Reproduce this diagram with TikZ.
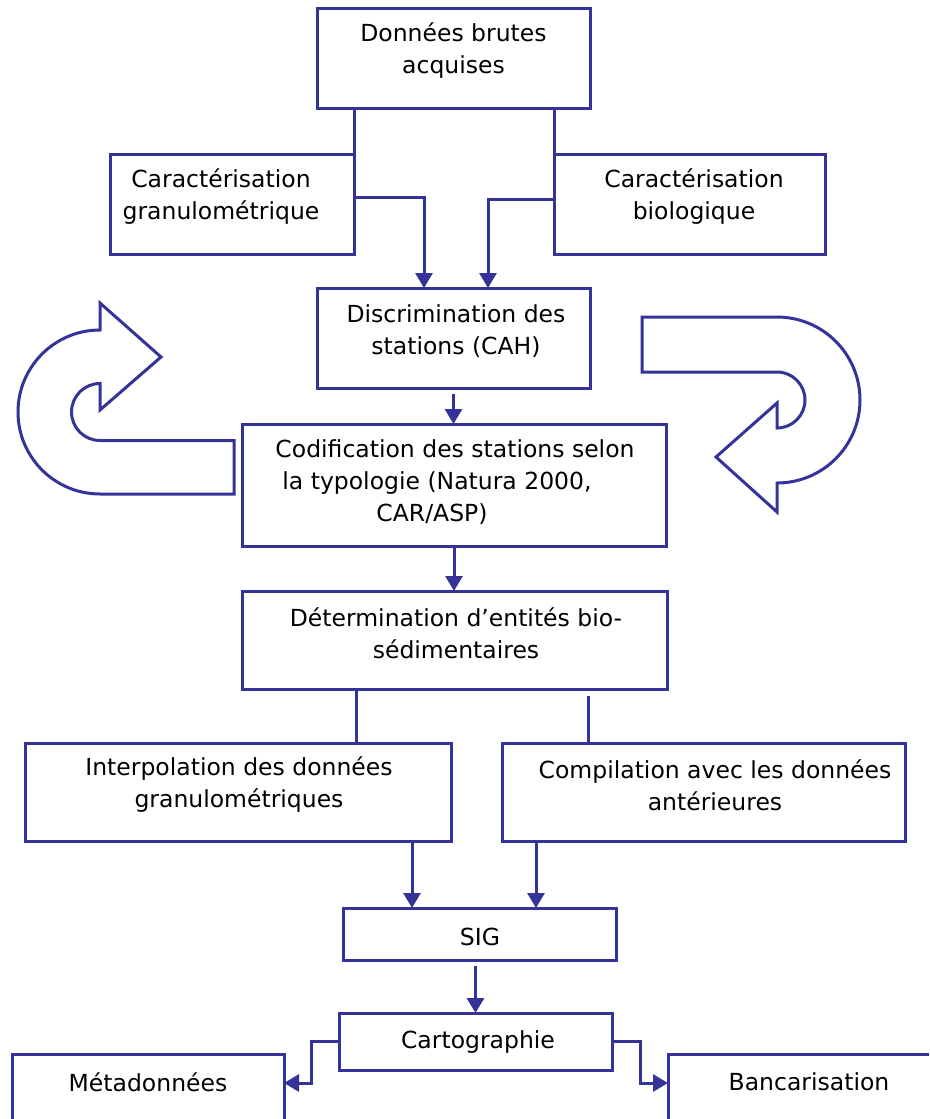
\documentclass[tikz,border=0pt]{standalone}
\usepackage{fontspec}
\setmainfont{DejaVu Sans}
\usetikzlibrary{arrows.meta,calc}
\definecolor{bl}{RGB}{51,51,153}
\begin{document}
\begin{tikzpicture}[x=1pt,y=-1pt,
  box/.style={draw=bl, line width=3pt, rectangle, anchor=north west, inner sep=0pt, outer sep=0pt},
  txt/.style={align=center, inner sep=0pt, yshift=-2pt, font=\fontsize{23.5}{32}\selectfont},
  conn/.style={draw=bl, line width=3pt},
  arr/.style={conn, -{Triangle[length=15pt,width=17pt]}},
  bigarrow/.style={draw=bl, line width=3pt, line join=miter}]
\useasboundingbox (0,0) rectangle (929,1119);
\clip (0,0) rectangle (929,1119);

% boxes
\node[box, minimum width=273pt, minimum height=100pt] (b1) at (317,8) {};
\node[box, minimum width=244pt, minimum height=100pt] (b2) at (110,154) {};
\node[box, minimum width=271pt, minimum height=100pt] (b3) at (554,154) {};
\node[box, minimum width=273pt, minimum height=100pt] (b4) at (317,288) {};
\node[box, minimum width=424pt, minimum height=122pt] (b5) at (242,424) {};
\node[box, minimum width=425pt, minimum height=98pt] (b6) at (242,591) {};
\node[box, minimum width=426pt, minimum height=98pt] (b7) at (25,743) {};
\node[box, minimum width=403pt, minimum height=98pt] (b8) at (502,743) {};
\node[box, minimum width=273pt, minimum height=52pt] (b9) at (343,908) {};
\node[box, minimum width=273pt, minimum height=57pt] (b10) at (339,1013) {};
\node[box, minimum width=272pt, minimum height=100pt] (b11) at (12,1054) {};
\node[box, minimum width=290pt, minimum height=100pt] (b12) at (668,1054) {};

% texts
\node[txt] (t1) at (453.5,49) {Données brutes\\acquises};
\node[txt] (t2) at (221,195) {Caractérisation\\granulométrique};
\node[txt] (t3) at (694,195) {Caractérisation\\biologique};
\node[txt] (t4) at (456,329) {Discrimination des\\stations (CAH)};
\node[txt] (t5) at (455,480) {Codification des stations selon\\\hspace*{-36pt}la typologie (Natura 2000,\\\hspace*{-46pt}CAR/ASP)};
\node[txt] (t6) at (456,631) {Détermination d’entités bio-\\sédimentaires};
\node[txt] (t7) at (239,783) {Interpolation des données\\granulométriques};
\node[txt] (t8) at (715,783) {Compilation avec les données\\antérieures};
\node[txt] (t9) at (480,935) {SIG};
\node[txt] (t10) at (478,1040) {Cartographie};
\node[txt] (t11) at (148,1080) {Métadonnées};
\node[txt] (t12) at (809,1080) {Bancarisation};

% connectors
\coordinate (k1) at (424,197);
\coordinate (k2) at (488,199);
\draw[arr] (b1.south -| b2.east) |- (k1) -- (k1 |- b4.north);
\draw[arr] (b1.south -| b3.west) |- (k2) -- (k2 |- b4.north);
\draw[arr, shorten <=6pt] (b4.south) -- (b4.south |- b5.north);
\draw[arr] (b5.south) -- (b5.south |- b6.north);
\coordinate (k3) at (356,0);
\coordinate (k4) at (588,0);
\draw[conn] (k3 |- b6.south) -- (k3 |- b7.north);
\draw[conn, shorten <=7pt] (k4 |- b6.south) -- (k4 |- b8.north);
\coordinate (k5) at (412,0);
\coordinate (k6) at (536,0);
\draw[arr] (k5 |- b7.south) -- (k5 |- b9.north);
\draw[arr] (k6 |- b8.south) -- (k6 |- b9.north);
\draw[arr, shorten <=6pt] (b9.south -| b10.north) -- (b10.north);
\coordinate (k7) at (311,1083);
\coordinate (k8) at (640,1083);
\draw[arr] (b10.west) -| (k7) -- (k7 -| b11.east);
\draw[arr] (b10.east) -| (k8) -- (k8 -| b12.west);

% curved block arrows
\draw[bigarrow] (100,303) -- (161,357) -- (100,410) -- (100,383.5)
  arc[start angle=270, end angle=90, radius=28.5] -- (234,440.5) -- (234,494) -- (100,494)
  arc[start angle=90, end angle=270, radius=82] -- cycle;
\draw[bigarrow] (642,317) -- (777,317)
  arc[start angle=270, end angle=450, radius=83] -- (777,512) -- (716,457) -- (777,403) -- (777,428)
  arc[start angle=90, end angle=-90, radius=28] -- (642,372) -- cycle;
\end{tikzpicture}
\end{document}
